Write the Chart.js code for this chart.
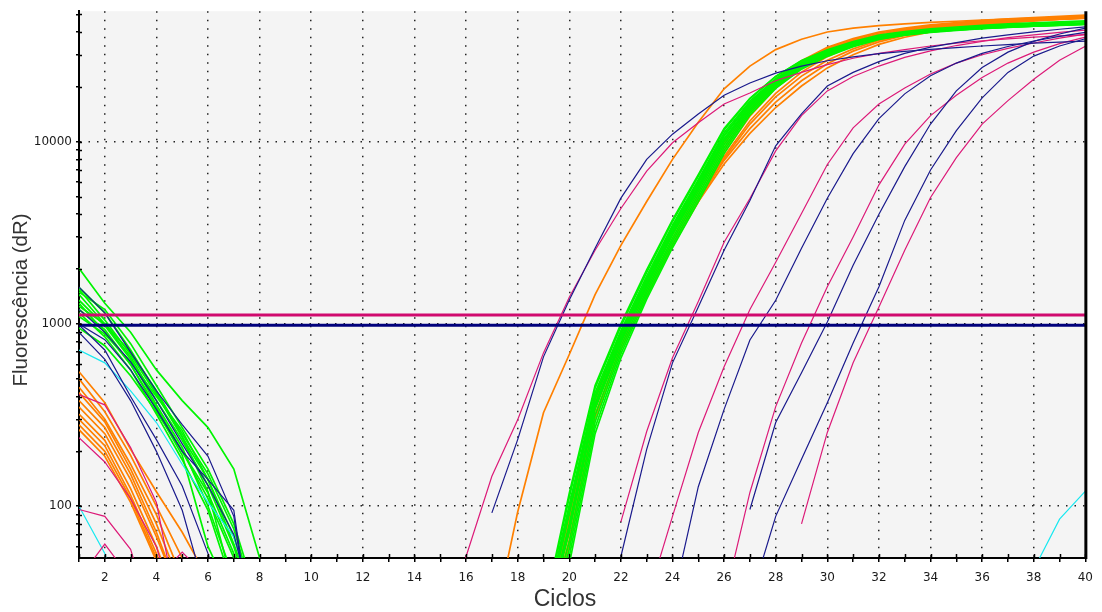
<!DOCTYPE html>
<html>
<head>
<meta charset="utf-8">
<script src="https://cdn.jsdelivr.net/npm/chart.js@4.4.1/dist/chart.umd.min.js"></script>
<style>
  html, body { margin: 0; padding: 0; background: #fff; }
  #wrap { width: 1102px; height: 612px; }
</style>
</head>
<body>
<div id="wrap"><canvas id="ampPlot" width="1102" height="612"></canvas></div>
<script>
const _ = null;

// eixo X: ciclos 1..40
const cycles = [1,2,3,4,5,6,7,8,9,10,11,12,13,14,15,16,17,18,19,20,
                21,22,23,24,25,26,27,28,29,30,31,32,33,34,35,36,37,38,39,40];
const yTickValues = [60,70,80,90,100,200,300,400,500,600,700,800,900,
                     1000,2000,3000,4000,5000,6000,7000,8000,9000,
                     10000,20000,30000,40000,50000];
const yLabelValues = [100, 1000, 10000];
const xTitle = 'Ciclos';
const yTitle = 'Fluorescência (dR)';

// thresholds (dR)
const thresholdMagenta = 1120;
const thresholdNavy = 985;

// green wells
const green01 = [2020,1300,900,560,380,270,160,52,_,_, _,_,_,_,_,_,_,_,16,48,
  250,650,1370,2620,4700,8600,14000,19600,25000,29400, 33200,36400,38400,39800,40800,41700,42400,43000,43500,44000];
const green02 = [1590,1150,720,420,250,150,75,25,_,_, _,_,_,_,_,_,_,_,19,64,
  315,755,1540,2960,5300,9650,15150,20650,25900,30100, 33800,36900,38900,40800,42000,43000,43800,44500,45000,45500];
const green03 = [1450,1000,660,380,230,130,60,22,_,_, _,_,_,_,_,_,_,_,26,118,
  460,1000,1980,3720,6600,11800,17300,22800,27700,31600, 35000,37800,39500,40800,41700,42500,43200,43800,44300,44800];
const green04 = [1300,900,600,350,200,110,52,20,_,_, _,_,_,_,_,_,_,_,24,102,
  420,920,1830,3480,6200,11200,16700,22200,27200,31200, 34700,37600,39300,40600,41500,42300,43000,43600,44100,44600];
const green05 = [1250,1000,700,430,240,120,35,_,_,_, _,_,_,_,_,_,_,_,22,90,
  385,860,1720,3300,5900,10700,16200,21700,26800,30900, 34400,37300,39100,40400,41400,42200,42900,43500,44000,44500];
const green06 = [1150,850,560,320,180,95,35,_,_,_, _,_,_,_,_,_,_,_,20,72,
  340,790,1600,3080,5500,10000,15500,21000,26200,30400, 34000,37000,38800,40200,41200,42000,42700,43300,43800,44300];
const green07 = [1100,880,620,400,260,140,62,25,_,_, _,_,_,_,_,_,_,_,18,58,
  290,720,1480,2850,5100,9300,14800,20300,25600,29900, 33600,36700,38600,40000,41000,41800,42500,43100,43600,44100];
const green08 = [1550,1050,680,410,240,140,68,25,_,_, _,_,_,_,_,_,_,_,25,112,
  445,970,1920,3650,6450,11600,17200,22800,27900,31900, 35400,38400,40200,41600,42600,43500,44300,44900,45500,46000];
const green09 = [1350,980,640,360,210,100,40,_,_,_, _,_,_,_,_,_,_,_,17,53,
  270,685,1420,2730,4900,8950,14400,19950,25300,29700, 33400,36600,38500,40000,41000,41800,42500,43100,43600,44100];
const green10 = [950,760,520,330,200,118,55,20,_,_, _,_,_,_,_,_,_,_,23,96,
  400,890,1770,3390,6050,10900,16400,21900,27000,31000, 34500,37400,39200,40500,41500,42300,43000,43600,44100,44600];
const green11 = [1500,1200,780,460,270,160,80,28,_,_, _,_,_,_,_,_,_,_,21,80,
  365,830,1660,3200,5700,10400,15900,21400,26500,30700, 34200,37200,39000,40300,41300,42100,42800,43400,43900,44400];
const green12 = [1200,930,600,340,190,60,30,_,_,_, _,_,_,_,_,_,_,_,21,76,
  352,810,1635,3140,5600,10300,15750,21300,26450,30650, 34100,37100,38900,40300,41300,42100,42800,43400,43900,44400];

// orange wells
const orange01 = [547,370,205,120,72,40,_,_,_,_, _,_,_,_,_,_,20,93,326,680,
  1450,2700,4700,8000,12800,19500,26000,32000,36500,40000, 42000,43300,44300,45100,45800,46400,47000,47500,48000,48500];
const orange02 = [500,330,190,100,52,25,_,_,_,_, _,_,_,_,_,_,_,_,22,84,
  370,830,1630,3070,5400,9650,15000,21100,26800,32000, 35800,39000,41000,42800,44000,45200,46200,47000,47800,48500];
const orange03 = [450,300,170,90,40,_,_,_,_,_, _,_,_,_,_,_,_,_,24,95,
  405,890,1740,3250,5750,10100,15800,22100,27800,33000, 36800,40000,42000,43800,45000,46200,47200,48000,48800,49500];
const orange04 = [420,290,160,80,35,_,_,_,_,_, _,_,_,_,_,_,_,_,21,72,
  345,780,1540,2890,5130,9200,14400,20300,26100,31300, 35100,38300,40500,42300,43600,44800,45800,46700,47400,48000];
const orange05 = [380,270,150,72,30,_,_,_,_,_, _,_,_,_,_,_,_,_,20,65,
  320,740,1450,2670,4680,8100,12500,17600,22900,28000, 32300,36000,38800,41000,42800,44200,45400,46300,47100,47800];
const orange06 = [350,250,140,68,30,_,_,_,_,_, _,_,_,_,_,_,_,_,22,76,
  350,790,1510,2760,4770,7900,11800,16500,21600,26800, 31400,35300,38300,40700,42500,44000,45200,46200,47000,47700];
const orange07 = [320,230,125,60,25,_,_,_,_,_, _,_,_,_,_,_,_,_,22,85,
  380,835,1580,2890,4950,8300,13000,18400,24100,29300, 33800,37500,40000,42000,43500,44800,45900,46800,47600,48200];
const orange08 = [300,215,115,55,22,_,_,_,_,_, _,_,_,_,_,_,_,_,23,90,
  390,860,1690,3160,5580,9900,15400,21600,27300,32500, 36300,39500,41500,43300,44500,45700,46700,47500,48300,49000];
const orange09 = [280,200,110,52,20,_,_,_,_,_, _,_,_,_,_,_,_,_,19,61,
  305,720,1425,2710,4860,8700,13800,19700,25300,30500, 34600,38000,40300,42200,43600,44800,45800,46600,47300,47900];
const orange10 = [263,188,105,50,20,_,_,_,_,_, _,_,_,_,_,_,_,_,21,80,
  360,810,1550,2800,4680,7550,11100,15400,20200,25400, 30000,34200,37400,40000,42000,43600,45000,46000,46900,47600];

// navy wells
const navy01 = [1590,1150,700,430,280,188,88,10,_,_, _,_,_,_,_,_,92,232,660,1353,
  2600,4900,8000,11000,14200,18000,21000,23800,26000,27800, 29200,30400,31300,32100,32800,33500,34100,34700,35200,35600];
const navy02 = [987,720,400,232,129,55,15,_,_,_, _,_,_,_,_,_,_,_,_,_,
  _,53,205,612,1240,2540,4760,9500,14200,20200, 24000,27500,30500,33000,35000,37000,38600,40000,41400,42700];
const navy03 = [1200,900,620,380,220,130,70,20,_,_, _,_,_,_,_,_,_,_,_,_,
  _,_,_,30,128,340,817,1350,2600,4900, 8600,13400,18300,23000,27000,30500,33300,35700,37800,39800];
const navy04 = [1000,820,560,340,200,140,95,10,_,_, _,_,_,_,_,_,_,_,_,_,
  _,_,_,_,_,_,96,288,540,1025, 2100,4000,7300,12500,19000,25500,31000,35500,39000,42000];
const navy05 = [900,640,380,200,95,30,_,_,_,_, _,_,_,_,_,_,_,_,_,_,
  _,_,_,_,_,_,30,88,181,370, 787,1600,3700,7000,11500,17400,24000,29500,33500,36700];

// magenta wells
const magenta01 = [410,360,210,105,20,_,_,_,_,_, _,_,_,_,20,53,146,298,694,1400,
  2540,4300,6900,9870,12700,16100,18500,21600,24000,26500, 28700,30500,32000,33500,34700,35800,36700,37500,38100,38600];
const magenta02 = [238,175,110,60,20,_,_,_,_,_, _,_,_,_,_,_,_,_,_,_,
  _,82,257,652,1330,2810,4880,8900,13900,19000, 22800,26000,29000,31500,33700,35500,37200,38600,39800,40900];
const magenta03 = [96,88,58,20,_,_,_,_,_,_, _,_,_,_,_,_,_,_,_,_,
  _,_,30,88,254,582,1200,2180,4040,7500, 11900,16100,19700,23500,27000,30000,32500,34800,37000,38900];
const magenta04 = [40,62,40,_,_,_,_,_,_,_, _,_,_,_,_,_,_,_,_,_,
  _,_,_,_,_,30,119,352,787,1600, 3000,5800,9700,13900,18000,22500,27000,31000,34500,37500];
const magenta05 = [_,_,_,40,56,40,_,_,_,_, _,_,_,_,_,_,_,_,_,_,
  _,_,_,_,_,_,_,_,80,254, 612,1240,2540,4940,8180,12500,16800,22000,28000,33400];

// cyan wells
const cyan01 = [720,612,430,288,170,105,68,25,_,_, _,_,_,_,_,_,_,_,_,_,
  _,_,_,_,_,_,_,_,_,_, _,_,_,_,_,_,_,_,_,_];
const cyan02 = [100,55,15,_,_,_,_,_,_,_, _,_,_,_,_,_,_,_,_,_,
  _,_,_,_,_,_,_,_,_,_, _,_,_,_,_,_,_,45,85,121];

const greenCurves = [green01,green02,green03,green04,green05,green06,green07,green08,green09,green10,green11,green12];
const orangeCurves = [orange01,orange02,orange03,orange04,orange05,orange06,orange07,orange08,orange09,orange10];
const navyCurves = [navy01,navy02,navy03,navy04,navy05];
const magentaCurves = [magenta01,magenta02,magenta03,magenta04,magenta05];
const cyanCurves = [cyan01,cyan02];

const GREEN = '#00f400', ORANGE = '#ff8000', NAVY = '#1a1a8c', MAGENTA = '#dc1a78', CYAN = '#18e8f0';

function curve(values, color, width) {
  return {
    data: values.map((v, i) => ({ x: cycles[i], y: v })),
    borderColor: color,
    borderWidth: width,
    pointRadius: 0,
    tension: 0,
    fill: false
  };
}
function flatLine(value, color) {
  return {
    data: cycles.map(c => ({ x: c, y: value })),
    borderColor: color,
    borderWidth: 3,
    pointRadius: 0,
    fill: false
  };
}

// first dataset is painted last (on top)
const datasets = [
  flatLine(thresholdMagenta, '#d00a6e'),
  flatLine(thresholdNavy, '#00007c'),
  ...navyCurves.map(v => curve(v, NAVY, 1.2)),
  ...magentaCurves.map(v => curve(v, MAGENTA, 1.2)),
  ...cyanCurves.map(v => curve(v, CYAN, 1.2)),
  ...greenCurves.map(v => curve(v, GREEN, 1.7)),
  ...orangeCurves.map(v => curve(v, ORANGE, 1.7))
];

// grey plot area, heavy right edge, inner tick marks and axis titles
const plotFrame = {
  id: 'plotFrame',
  beforeDraw(chart) {
    const { ctx, chartArea: a } = chart;
    ctx.save();
    ctx.fillStyle = '#f4f4f4';
    ctx.fillRect(a.left, a.top, a.right - a.left, a.bottom - a.top);
    ctx.restore();
  },
  afterDraw(chart) {
    const { ctx, chartArea: a, scales } = chart;
    ctx.save();
    ctx.strokeStyle = '#000';
    ctx.lineWidth = 1.5;
    ctx.beginPath();
    scales.x.ticks.forEach(t => {
      const px = Math.round(scales.x.getPixelForValue(t.value)) + 0.5;
      ctx.moveTo(px, a.bottom - 4);
      ctx.lineTo(px, a.bottom);
    });
    scales.y.ticks.forEach(t => {
      const py = Math.round(scales.y.getPixelForValue(t.value)) + 0.5;
      ctx.moveTo(a.left, py);
      ctx.lineTo(a.left + 3, py);
    });
    ctx.stroke();
    ctx.lineWidth = 3;
    ctx.beginPath();
    ctx.moveTo(a.right + 0.5, a.top);
    ctx.lineTo(a.right + 0.5, a.bottom + 1);
    ctx.stroke();

    ctx.fillStyle = '#333';
    ctx.textAlign = 'center';
    ctx.textBaseline = 'middle';
    ctx.font = '23px "Liberation Sans"';
    ctx.fillText(xTitle, 565, 600);
    ctx.translate(21, 300);
    ctx.rotate(-Math.PI / 2);
    ctx.font = '20.5px "Liberation Sans"';
    ctx.fillText(yTitle, 0, 0);
    ctx.restore();
  }
};

const tickFont = { family: 'DejaVu Sans', size: 12 };
const dots = [1.5, 7];

new Chart(document.getElementById('ampPlot'), {
  type: 'line',
  data: { datasets },
  plugins: [plotFrame],
  options: {
    responsive: false,
    animation: false,
    events: [],
    devicePixelRatio: 1,
    layout: { padding: { top: 9, right: 16, left: 0, bottom: 0 } },
    plugins: { legend: { display: false }, tooltip: { enabled: false } },
    scales: {
      x: {
        type: 'linear',
        min: 1,
        max: 40,
        afterBuildTicks: s => { s.ticks = cycles.map(c => ({ value: c })); },
        afterFit: s => { s.height = 54; },
        ticks: {
          autoSkip: false,
          maxRotation: 0,
          padding: 9,
          color: '#1a1a1a',
          font: tickFont,
          callback: v => (v % 2 === 0 ? String(v) : '')
        },
        grid: {
          color: c => (c.tick && c.tick.value % 2 === 0 && c.tick.value < 40 ? '#222' : 'rgba(0,0,0,0)'),
          lineWidth: 1.5,
          tickLength: 4,
          tickColor: '#000',
          tickWidth: 1.5
        },
        border: { display: true, color: '#000', width: 2, dash: dots }
      },
      y: {
        type: 'logarithmic',
        min: 52,
        max: 52000,
        afterBuildTicks: s => { s.ticks = yTickValues.map(v => ({ value: v })); },
        afterFit: s => { s.width = 79; },
        ticks: {
          autoSkip: false,
          padding: 4,
          color: '#1a1a1a',
          font: tickFont,
          callback: v => (yLabelValues.includes(v) ? String(v) : '')
        },
        grid: {
          color: c => (c.tick && yLabelValues.includes(c.tick.value) ? '#222' : 'rgba(0,0,0,0)'),
          lineWidth: 1.5,
          tickLength: 3,
          tickColor: '#000',
          tickWidth: 1.5
        },
        border: { display: true, color: '#000', width: 2, dash: dots }
      }
    }
  }
});
</script>
</body>
</html>
